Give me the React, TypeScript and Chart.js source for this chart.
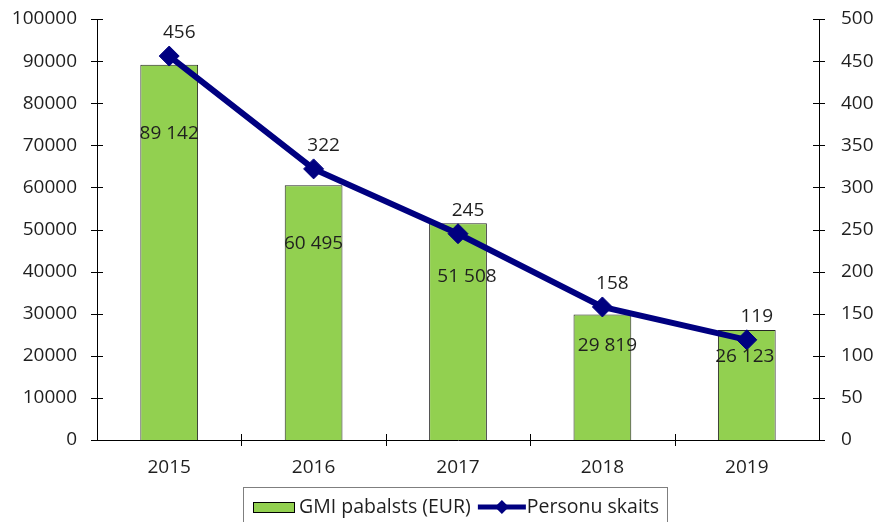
import React, { useEffect, useRef } from "react";
import { Chart, registerables } from "chart.js";

Chart.register(...registerables);

const years = ["2015", "2016", "2017", "2018", "2019"];
const gmiValues = [89142, 60495, 51508, 29819, 26123];
const personValues = [456, 322, 245, 158, 119];
const gmiLabels = ["89 142", "60 495", "51 508", "29 819", "26 123"];
const personLabels = ["456", "322", "245", "158", "119"];
const leftTicks = [0, 10000, 20000, 30000, 40000, 50000, 60000, 70000, 80000, 90000, 100000];
const rightTicks = [0, 50, 100, 150, 200, 250, 300, 350, 400, 450, 500];

const FONT = "'Open Sans', sans-serif";
const FS = 19;
const TEXT = "#1f1f1f";
const NAVY = "#000080";
const GREEN = "#92D050";

// label offsets (pixels) relative to the bar top / point
const barLabelDY = [69, 58, 53, 31, 27];
const barLabelDX = [0, 0, 9, 5, -2];

const overlayPlugin = {
  id: "overlay",
  afterDatasetsDraw(chart: any) {
    const ctx = chart.ctx;
    const area = chart.chartArea;
    const yL = chart.scales.y;
    const yR = chart.scales.y1;
    const x = chart.scales.x;
    ctx.save();
    ctx.strokeStyle = "#000";
    ctx.lineWidth = 1;
    leftTicks.forEach((v) => {
      const py = Math.round(yL.getPixelForValue(v)) + 0.5;
      ctx.beginPath();
      ctx.moveTo(area.left - 6, py);
      ctx.lineTo(area.left + 6, py);
      ctx.stroke();
    });
    rightTicks.forEach((v) => {
      const py = Math.round(yR.getPixelForValue(v)) + 0.5;
      ctx.beginPath();
      ctx.moveTo(area.right - 6, py);
      ctx.lineTo(area.right + 6, py);
      ctx.stroke();
    });
    for (let i = 1; i < years.length; i++) {
      const px = Math.round((x.getPixelForValue(i - 1) + x.getPixelForValue(i)) / 2) + 0.5;
      ctx.beginPath();
      ctx.moveTo(px, area.bottom - 6);
      ctx.lineTo(px, area.bottom + 6);
      ctx.stroke();
    }
    ctx.font = `${FS}px ${FONT}`;
    ctx.fillStyle = TEXT;
    ctx.textAlign = "center";
    ctx.textBaseline = "middle";
    const barMeta = chart.getDatasetMeta(0);
    barMeta.data.forEach((bar: any, i: number) => {
      ctx.fillText(gmiLabels[i], bar.x + barLabelDX[i], bar.y + barLabelDY[i]);
    });
    const lineMeta = chart.getDatasetMeta(1);
    lineMeta.data.forEach((pt: any, i: number) => {
      ctx.fillText(personLabels[i], pt.x + 10, pt.y - 23);
    });
    // legend
    const lx = 243.5, ly = 487.5, lw = 424, lh = 40;
    ctx.lineWidth = 1;
    ctx.strokeStyle = "#7f7f7f";
    ctx.strokeRect(lx, ly, lw, lh);
    ctx.fillStyle = GREEN;
    ctx.fillRect(253, 502, 42, 11);
    ctx.strokeStyle = "#000";
    ctx.strokeRect(253.5, 502.5, 41, 10);
    ctx.font = `19.5px ${FONT}`;
    ctx.fillStyle = TEXT;
    ctx.textAlign = "left";
    const t1 = chart.data.datasets[0].label;
    ctx.fillText(t1, 299, 507);
    const w1 = ctx.measureText(t1).width;
    const mx = 299 + w1 + 7;
    ctx.strokeStyle = NAVY;
    ctx.lineWidth = 5;
    ctx.beginPath();
    ctx.moveTo(mx, 507);
    ctx.lineTo(mx + 48, 507);
    ctx.stroke();
    ctx.fillStyle = NAVY;
    ctx.beginPath();
    ctx.moveTo(mx + 24 - 7, 507);
    ctx.lineTo(mx + 24, 500);
    ctx.lineTo(mx + 24 + 7, 507);
    ctx.lineTo(mx + 24, 514);
    ctx.closePath();
    ctx.fill();
    ctx.fillStyle = TEXT;
    ctx.fillText(chart.data.datasets[1].label, mx + 49, 507);
    ctx.restore();
  },
};

export default function App() {
  const ref = useRef<HTMLCanvasElement>(null);
  useEffect(() => {
    if (!ref.current) return;
    const tickFont = { family: FONT, size: FS };
    const fitV = (w: number) => (s: any) => {
      s.width = w;
      s.paddingTop = 0;
      s.paddingBottom = 0;
    };
    const chart = new Chart(ref.current, {
      type: "bar",
      data: {
        labels: years,
        datasets: [
          {
            type: "bar",
            label: "GMI pabalsts (EUR)",
            data: gmiValues,
            backgroundColor: GREEN,
            borderColor: "#262626",
            borderWidth: 1,
            categoryPercentage: 1,
            barPercentage: 0.4,
            yAxisID: "y",
            order: 2,
          },
          {
            type: "line",
            label: "Personu skaits",
            data: personValues,
            borderColor: NAVY,
            backgroundColor: NAVY,
            borderWidth: 6,
            pointStyle: "rectRot",
            pointRadius: 10,
            pointBorderWidth: 1,
            yAxisID: "y1",
            order: 1,
          },
        ],
      },
      options: {
        animation: false,
        responsive: false,
        layout: { padding: { top: 19, bottom: 0, left: 0, right: 0 } },
        plugins: { legend: { display: false }, tooltip: { enabled: false } },
        scales: {
          x: {
            grid: { display: false, drawTicks: false },
            border: { display: true, color: "#000", width: 1 },
            ticks: { color: TEXT, font: tickFont, padding: 16 },
            afterFit: (s: any) => { s.height = 82; s.paddingLeft = 0; s.paddingRight = 0; },
          },
          y: {
            position: "left",
            min: 0,
            max: 100000,
            grid: { display: false, drawTicks: false },
            border: { display: true, color: "#000", width: 1 },
            ticks: { stepSize: 10000, color: TEXT, font: tickFont, padding: 20, callback: (v: any) => String(v) },
            afterFit: fitV(97),
          },
          y1: {
            position: "right",
            min: 0,
            max: 500,
            grid: { display: false, drawTicks: false },
            border: { display: true, color: "#000", width: 1 },
            ticks: { stepSize: 50, color: TEXT, font: tickFont, padding: 22, callback: (v: any) => String(v) },
            afterFit: fitV(58),
          },
        },
      },
      plugins: [overlayPlugin],
    });
    return () => chart.destroy();
  }, []);
  return (
    <div style={{ position: "fixed", left: 0, top: 0, width: 877, height: 522, background: "#fff" }}>
      <canvas ref={ref} width={877} height={522} style={{ display: "block" }} />
    </div>
  );
}
